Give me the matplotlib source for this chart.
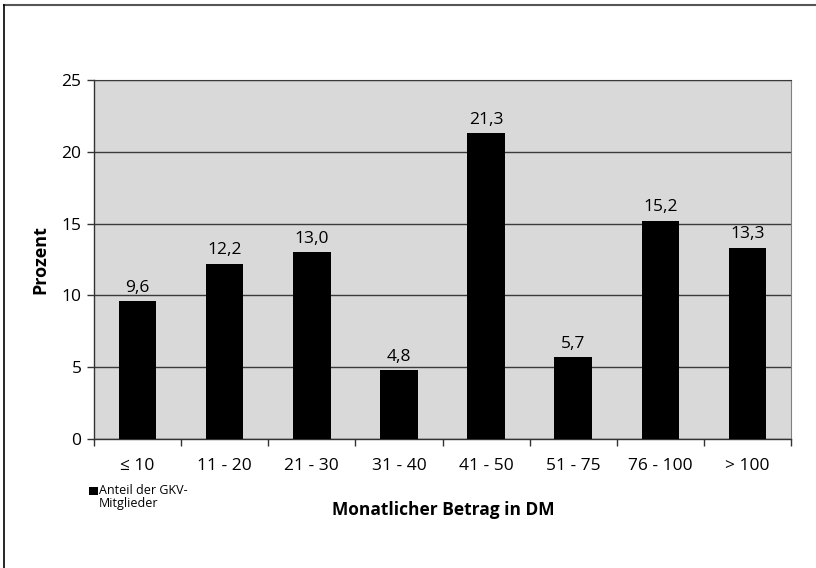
import matplotlib
matplotlib.use("Agg")
import matplotlib.pyplot as plt
from matplotlib.lines import Line2D
from matplotlib.patches import Rectangle

categories = ["≤ 10", "11 - 20", "21 - 30", "31 - 40", "41 - 50", "51 - 75", "76 - 100", "> 100"]
values = [9.6, 12.2, 13.0, 4.8, 21.3, 5.7, 15.2, 13.3]
series_name = "Anteil der GKV-\nMitglieder"
yticks = [0, 5, 10, 15, 20, 25]

plt.rcParams['font.family'] = ['Open Sans', 'DejaVu Sans']

fig = plt.figure(figsize=(8.16, 5.68), dpi=100)
ax = fig.add_axes([94/816, 1-439/568, 697/816, 359/568])
ax.set_facecolor('#d9d9d9')

x = list(range(len(categories)))
bars = ax.bar(x, values, width=0.43, color='black', label=series_name, zorder=3)
ax.set_xlim(-0.5, len(categories)-0.5)
ax.set_ylim(0, 25)
ax.set_yticks(yticks)
ax.set_yticklabels([str(t) for t in yticks], fontsize=12.5)
ax.yaxis.grid(True, color='#3a3a3a', linewidth=1.0, zorder=1)
ax.set_axisbelow(True)
ax.tick_params(axis='y', length=5, width=1, color='#333333', pad=4)

ax.set_xticks(x)
ax.set_xticklabels(categories, fontsize=12.5)
ax.tick_params(axis='x', which='major', length=0, pad=14)
ax.set_xticks([i + 0.5 for i in range(-1, len(categories))], minor=True)
ax.tick_params(axis='x', which='minor', length=5, width=1, color='#333333', direction='out')

for s in ['left', 'bottom']:
    ax.spines[s].set_color('#333333')
    ax.spines[s].set_linewidth(1.0)
ax.spines['top'].set_color('#3a3a3a')
ax.spines['right'].set_color('#808080')

for b, v in zip(bars, values):
    ax.annotate(f"{v:.1f}".replace('.', ','), (b.get_x() + b.get_width()/2, v),
                xytext=(0, 4), textcoords='offset points', ha='center', va='bottom', fontsize=12.5)

ax.set_ylabel("Prozent", fontsize=13, fontweight='bold', labelpad=9)
fig.text(443/816, 1-510/568, "Monatlicher Betrag in DM", fontsize=12.5, fontweight='bold',
         ha='center', va='center')

# legend (handle aligned to the first label line, as in the reference)
fig.add_artist(Rectangle((89/816, 1-495/568), 9/816, 8/568, transform=fig.transFigure,
                         facecolor='black', edgecolor='none'))
fig.text(99/816, 1-484/568, series_name, fontsize=9, ha='left', va='top', linespacing=0.95)

fig.add_artist(Line2D([4/816, 1], [1-5/568, 1-5/568], transform=fig.transFigure, color='#555555', linewidth=1.5))
fig.add_artist(Line2D([4/816, 4/816], [0, 1-5/568], transform=fig.transFigure, color='black', linewidth=1.2))

fig.savefig("out.png", dpi=100)
